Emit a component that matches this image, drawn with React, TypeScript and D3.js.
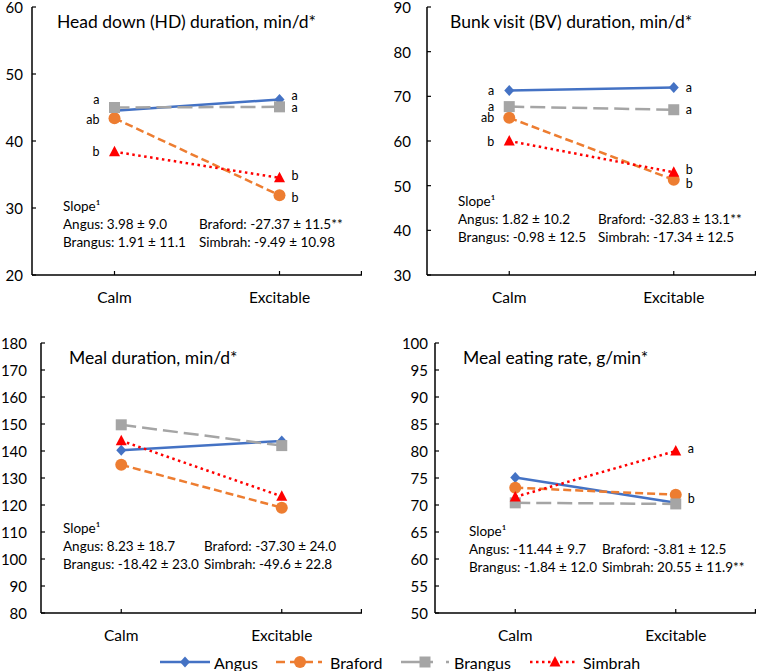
import React from "react";
import * as d3 from "d3";

const categories = ["Calm", "Excitable"];
const breeds = ["Angus", "Braford", "Brangus", "Simbrah"];
const colors = ["#4472C4", "#ED7D31", "#A5A5A5", "#FF0000"];

// values per breed: [Calm, Excitable]
const hdValues = [[44.5, 46.2], [43.4, 31.9], [45.0, 45.1], [38.4, 34.5]];
const bvValues = [[71.3, 72.0], [65.2, 51.3], [67.7, 67.0], [60.0, 53.0]];
const mdValues = [[140.3, 143.7], [134.9, 119.0], [149.7, 142.0], [143.8, 123.2]];
const merValues = [[75.1, 70.4], [73.2, 71.9], [70.4, 70.2], [71.5, 80.0]];

const hdLetters = [["", "a"], ["ab", "b"], ["a", "a"], ["b", "b"]];
const bvLetters = [["a", "a"], ["ab", "b"], ["a", "a"], ["b", "b"]];
const mdLetters = [["", ""], ["", ""], ["", ""], ["", ""]];
const merLetters = [["", ""], ["", ""], ["", "b"], ["", "a"]];

const titles = [
  "Head down (HD) duration, min/d*",
  "Bunk visit (BV) duration,  min/d*",
  "Meal duration, min/d*",
  "Meal eating rate, g/min*",
];
const yDomains = [[20, 60], [30, 90], [80, 180], [50, 100]];
const yTickSteps = [10, 10, 10, 5];

const hdSlopes = [
  ["Angus: 3.98 ± 9.0", "Braford: -27.37 ± 11.5**"],
  ["Brangus: 1.91 ± 11.1", "Simbrah: -9.49  ± 10.98"],
];
const bvSlopes = [
  ["Angus: 1.82 ± 10.2", "Braford: -32.83 ± 13.1**"],
  ["Brangus: -0.98 ± 12.5", "Simbrah: -17.34  ± 12.5"],
];
const mdSlopes = [
  ["Angus: 8.23 ± 18.7", "Braford: -37.30 ± 24.0"],
  ["Brangus: -18.42 ± 23.0", "Simbrah: -49.6 ± 22.8"],
];
const merSlopes = [
  ["Angus: -11.44 ± 9.7", "Braford: -3.81 ± 12.5"],
  ["Brangus: -1.84 ± 12.0", "Simbrah: 20.55 ± 11.9**"],
];

// layout (positions only)
const FONT = "Lato, 'Liberation Sans', sans-serif";
const layouts = [
  { left: 32, right: 362, top: 7, bottom: 275, labelGap: 9, titleX: 25, slopeX: 31, slopeY: 199, col2: 167, letterDy: [[0, -4], [1, 2], [-8, 1], [0, -2]] },
  { left: 427, right: 756, top: 7, bottom: 275, labelGap: 16, titleX: 23, slopeX: 31, slopeY: 194, col2: 171, letterDy: [[0, 0], [0, 4], [0, 0], [0, -3]] },
  { left: 41, right: 362, top: 343, bottom: 613, labelGap: 14, titleX: 28, slopeX: 22, slopeY: 185, col2: 163, letterDy: [[0, 0], [0, 0], [0, 0], [0, 0]] },
  { left: 435, right: 756, top: 343, bottom: 613, labelGap: 7, titleX: 28, slopeX: 34, slopeY: 188, col2: 167, letterDy: [[0, 0], [0, 0], [0, -5], [0, -3]] },
];

const panelValues = [hdValues, bvValues, mdValues, merValues];
const panelLetters = [hdLetters, bvLetters, mdLetters, merLetters];
const panelSlopes = [hdSlopes, bvSlopes, mdSlopes, merSlopes];

const dashes = [null, "8 4", "15 6", "2.5 3.5"];

function Marker({ i, x, y }: { i: number; x: number; y: number }) {
  const c = colors[i];
  if (i === 0) {
    return <path d={`M${x},${y - 5.5}L${x + 5},${y}L${x},${y + 5.5}L${x - 5},${y}Z`} fill={c} />;
  }
  if (i === 1) return <circle cx={x} cy={y} r={6} fill={c} />;
  if (i === 2) return <rect x={x - 5.5} y={y - 5.5} width={11} height={11} fill={c} />;
  return <path d={`M${x},${y - 6}L${x + 5.5},${y + 4.5}L${x - 5.5},${y + 4.5}Z`} fill={c} />;
}

function Panel({ p }: { p: number }) {
  const L = layouts[p];
  const x = d3.scaleBand<string>().domain(categories).range([L.left, L.right]).padding(0);
  const cx = (c: string) => (x(c) as number) + x.bandwidth() / 2;
  const y = d3.scaleLinear().domain(yDomains[p]).range([L.bottom, L.top]);
  const ticks = d3.range(yDomains[p][0], yDomains[p][1] + 0.001, yTickSteps[p]);
  const line = d3
    .line<number>()
    .x((_, j) => cx(categories[j]))
    .y((d) => y(d));
  const vals = panelValues[p];
  const letters = panelLetters[p];
  const slopes = panelSlopes[p];
  return (
    <g>
      <line x1={L.left} x2={L.left} y1={L.top} y2={L.bottom} stroke="#000" strokeWidth={1.5} />
      <line x1={L.left} x2={L.right} y1={L.bottom} y2={L.bottom} stroke="#000" strokeWidth={1.5} />
      {ticks.map((t) => (
        <g key={t}>
          <line x1={L.left} x2={L.left + 4} y1={y(t)} y2={y(t)} stroke="#000" strokeWidth={1.2} />
          <text x={L.left - L.labelGap} y={y(t)} textAnchor="end" dominantBaseline="central" fontSize={15} fontFamily={FONT} fill="#000">
            {t}
          </text>
        </g>
      ))}
      {categories.map((c) => (
        <g key={c}>
          <line x1={cx(c)} x2={cx(c)} y1={L.bottom} y2={L.bottom - 4} stroke="#000" strokeWidth={1.2} />
          <text x={cx(c)} y={L.bottom + 22} textAnchor="middle" dominantBaseline="central" fontSize={15.5} fontFamily={FONT} fill="#000">
            {c}
          </text>
        </g>
      ))}
      <line x1={L.right - 0.6} x2={L.right - 0.6} y1={L.bottom} y2={L.bottom - 4} stroke="#000" strokeWidth={1.2} />
      <text x={L.left + L.titleX} y={L.top + 14} dominantBaseline="central" fontSize={17.5} fontFamily={FONT} fill="#000">
        {titles[p]}
      </text>
      {vals.map((v, i) => (
        <g key={i}>
          <path
            d={line(v) as string}
            fill="none"
            stroke={colors[i]}
            strokeWidth={2.5}
            strokeDasharray={dashes[i] || undefined}
          />
          {v.map((d, j) => (
            <Marker key={j} i={i} x={cx(categories[j])} y={y(d)} />
          ))}
        </g>
      ))}
      {vals.map((v, i) =>
        v.map((d, j) =>
          letters[i][j] ? (
            <text
              key={`${i}-${j}`}
              x={j === 0 ? cx(categories[j]) - 15 : cx(categories[j]) + 12}
              y={y(d) + L.letterDy[i][j]}
              textAnchor={j === 0 ? "end" : "start"}
              dominantBaseline="central"
              fontSize={12.5}
              fontFamily={FONT}
              fill="#000"
            >
              {letters[i][j]}
            </text>
          ) : null
        )
      )}
      <text x={L.left + L.slopeX} y={L.top + L.slopeY} dominantBaseline="central" fontSize={13.5} fontFamily={FONT} fill="#000">
        Slope¹
      </text>
      {slopes.map((row, r) =>
        row.map((s, k) => (
          <text
            key={`${r}-${k}`}
            x={L.left + (k === 0 ? L.slopeX : L.col2)}
            y={L.top + L.slopeY + 18 * (r + 1)}
            dominantBaseline="central"
            fontSize={13.5}
            fontFamily={FONT}
            fill="#000"
          >
            {s}
          </text>
        ))
      )}
    </g>
  );
}

const legendItems = [
  { x1: 160, x2: 210, mx: 185, tx: 214, dash: null },
  { x1: 276, x2: 322, mx: 300, tx: 330, dash: "9 5" },
  { x1: 401, x2: 449, mx: 425, tx: 454, dash: "32 13 3" },
  { x1: 530, x2: 578, mx: 555, tx: 583, dash: "2.5 3.5" },
];

export default function App() {
  const ly = 662;
  return (
    <svg width={757} height={671} style={{ position: "absolute", left: 0, top: 0, background: "#fff" }}>
      <rect width={757} height={671} fill="#fff" />
      {[0, 1, 2, 3].map((p) => (
        <Panel key={p} p={p} />
      ))}
      {breeds.map((b, i) => {
        const it = legendItems[i];
        return (
          <g key={b}>
            <line x1={it.x1} x2={it.x2} y1={ly} y2={ly} stroke={colors[i]} strokeWidth={2.5} strokeDasharray={it.dash || undefined} />
            <Marker i={i} x={it.mx} y={ly} />
            <text x={it.tx} y={ly} dominantBaseline="central" fontSize={16} fontFamily={FONT} fill="#000">
              {b}
            </text>
          </g>
        );
      })}
    </svg>
  );
}
